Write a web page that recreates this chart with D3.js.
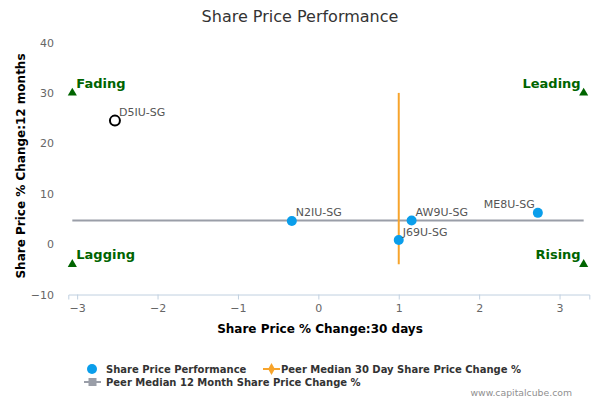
<!DOCTYPE html>
<html><head><meta charset="utf-8">
<script src="https://cdn.jsdelivr.net/npm/d3@7"></script>
<style>body{margin:0;background:#fff;} svg{display:block;font-family:"DejaVu Sans",Verdana,sans-serif;}</style>
</head><body><svg id="c" width="600" height="400"></svg>
<script>
const tickers = ["D5IU-SG","N2IU-SG","J69U-SG","AW9U-SG","ME8U-SG"];
const change30d = [-2.53,-0.33,1.00,1.16,2.73];
const change12m = [24.5,4.6,0.8,4.7,6.2];
const hollow = [true,false,false,false,false];
const peerMedian30d = 1.0;
const peerMedian12m = 4.7;
const quadrantNames = ["Fading","Leading","Lagging","Rising"];
const quadrantX = [-3.06,3.30,-3.06,3.30];
const quadrantY = [30,30,-4,-4];
const xTicks = [-3,-2,-1,0,1,2,3];
const yTicks = [-10,0,10,20,30,40];

const svg = d3.select("#c");
const x = d3.scaleLinear().domain([-3.11,3.37]).range([68.3,589.3]);
const y = d3.scaleLinear().domain([-10,40]).range([294.5,42.5]);

// title
svg.append("text").attr("x",300).attr("y",21.5).attr("text-anchor","middle")
  .attr("font-size",16).attr("fill","#333").text("Share Price Performance");

// x axis
const xa = svg.append("g").attr("transform","translate(0,294.5)")
  .call(d3.axisBottom(x).tickValues(xTicks).tickSize(5).tickFormat(d3.format("d")));
xa.select(".domain").attr("stroke","#C0D0E0");
xa.selectAll(".tick line").attr("stroke","#C0D0E0");
xa.selectAll(".tick text").attr("fill","#666").attr("font-size",11).attr("font-family","DejaVu Sans").attr("dy","0.9em");

// y axis
const ya = svg.append("g").attr("transform","translate(56,0)")
  .call(d3.axisLeft(y).tickValues(yTicks).tickSize(0).tickPadding(2));
ya.select(".domain").remove();
ya.selectAll(".tick text").attr("fill","#666").attr("font-size",11).attr("font-family","DejaVu Sans");

// axis titles
svg.append("text").attr("x",320).attr("y",333).attr("text-anchor","middle")
  .attr("font-size",12).attr("font-weight","bold").attr("fill","#000").text("Share Price % Change:30 days");
svg.append("text").attr("transform","translate(25,"+(y(15.5))+") rotate(-90)").attr("text-anchor","middle")
  .attr("font-size",12).attr("font-weight","bold").attr("fill","#000").text("Share Price % Change:12 months");

// peer median lines
svg.append("line").attr("x1",x(quadrantX[0])).attr("x2",x(quadrantX[1]))
  .attr("y1",y(peerMedian12m)).attr("y2",y(peerMedian12m)).attr("stroke","#9A9EA8").attr("stroke-width",2);
svg.append("line").attr("x1",x(peerMedian30d)).attr("x2",x(peerMedian30d))
  .attr("y1",y(quadrantY[0])).attr("y2",y(quadrantY[2])).attr("stroke","#F7A42C").attr("stroke-width",2);

// quadrant markers
const tri = d3.symbol().type(d3.symbolTriangle).size(36);
quadrantNames.forEach((n,i)=>{
  const px = x(quadrantX[i]), py = y(quadrantY[i]);
  svg.append("path").attr("d",tri).attr("transform",`translate(${px},${py})`).attr("fill","#006400");
  const left = i%2===0;
  svg.append("text").attr("x", left ? px+4 : px-3).attr("y", py-5)
    .attr("text-anchor", left ? "start" : "end").attr("font-size",13).attr("font-weight","bold")
    .attr("fill","#006400").text(n);
});

// points
tickers.forEach((t,i)=>{
  const px = x(change30d[i]), py = y(change12m[i]);
  svg.append("circle").attr("cx",px).attr("cy",py).attr("r",5)
    .attr("fill", hollow[i] ? "none" : "#0A9EEB")
    .attr("stroke", hollow[i] ? "#000" : "none").attr("stroke-width",2);
});
tickers.forEach((t,i)=>{
  const px = x(change30d[i]), py = y(change12m[i]);
  const right = change30d[i] > 2.5;
  svg.append("text").attr("x", right ? px-3 : px+4).attr("y", py-4.5)
    .attr("text-anchor", right ? "end" : "start").attr("font-size",11).attr("fill","#555").text(t);
});

// legend
const lg = svg.append("g").attr("font-size",10).attr("font-weight","bold").attr("fill","#333");
lg.append("circle").attr("cx",92).attr("cy",369).attr("r",5).attr("fill","#0A9EEB");
lg.append("text").attr("x",106).attr("y",372.5).text("Share Price Performance");
lg.append("line").attr("x1",263).attr("x2",280).attr("y1",369).attr("y2",369).attr("stroke","#F7A42C").attr("stroke-width",2);
lg.append("path").attr("d",d3.symbol().type(d3.symbolDiamond).size(40)).attr("transform","translate(271.5,369)").attr("fill","#F7A42C");
lg.append("text").attr("x",281).attr("y",372.5).text("Peer Median 30 Day Share Price Change %");
lg.append("line").attr("x1",84).attr("x2",101).attr("y1",382).attr("y2",382).attr("stroke","#9A9EA8").attr("stroke-width",2);
lg.append("rect").attr("x",88.5).attr("y",378).attr("width",8).attr("height",8).attr("fill","#9A9EA8");
lg.append("text").attr("x",106).attr("y",385.5).text("Peer Median 12 Month Share Price Change %");

// credits
svg.append("text").attr("x",572).attr("y",396).attr("text-anchor","end").attr("font-size",9.3)
  .attr("fill","#909090").text("www.capitalcube.com");
</script></body></html>
